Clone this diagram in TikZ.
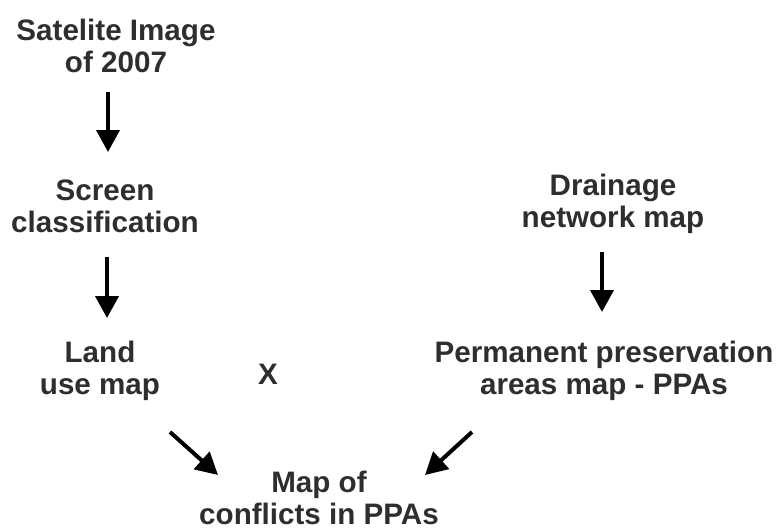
\documentclass[tikz,border=0pt]{standalone}
\usepackage{fontspec}
\setmainfont{Liberation Sans}
\usetikzlibrary{arrows.meta}
\definecolor{txt}{HTML}{2E2E2E}
\begin{document}
\begin{tikzpicture}[x=1pt,y=-1pt,
  lbl/.style={font=\fontsize{29.6}{32}\selectfont\bfseries, text=txt, align=center, inner sep=0pt, anchor=base},
  arr/.style={line width=4pt, draw=black, -{Triangle[width=23pt,length=22pt]}}]
\useasboundingbox (0,0) rectangle (776,530);
\node[lbl] (sat) at (116,72) {Satelite Image\\of 2007};
\node[lbl] (scr) at (105,232) {Screen\\classification};
\node[lbl] (land) at (100,394) {Land\\use map};
\node[lbl] (x) at (268,384) {X};
\node[lbl] (drain) at (613,227) {Drainage\\network map};
\node[lbl] (ppa) at (604,394) {Permanent preservation\\areas map - PPAs};
\node[lbl] (conf) at (319,524) {Map of\\conflicts in PPAs};
\coordinate (a1s) at (108,92);  \coordinate (a1e) at (108,152);
\coordinate (a2s) at (107,257); \coordinate (a2e) at (107,318);
\coordinate (a3s) at (602,252); \coordinate (a3e) at (602,312);
\coordinate (a4s) at (170,432); \coordinate (a4e) at (218,475);
\coordinate (a5s) at (472,432); \coordinate (a5e) at (425,475);
\draw[arr] (a1s) -- (a1e);
\draw[arr] (a2s) -- (a2e);
\draw[arr] (a3s) -- (a3e);
\draw[arr] (a4s) -- (a4e);
\draw[arr] (a5s) -- (a5e);
\end{tikzpicture}
\end{document}
